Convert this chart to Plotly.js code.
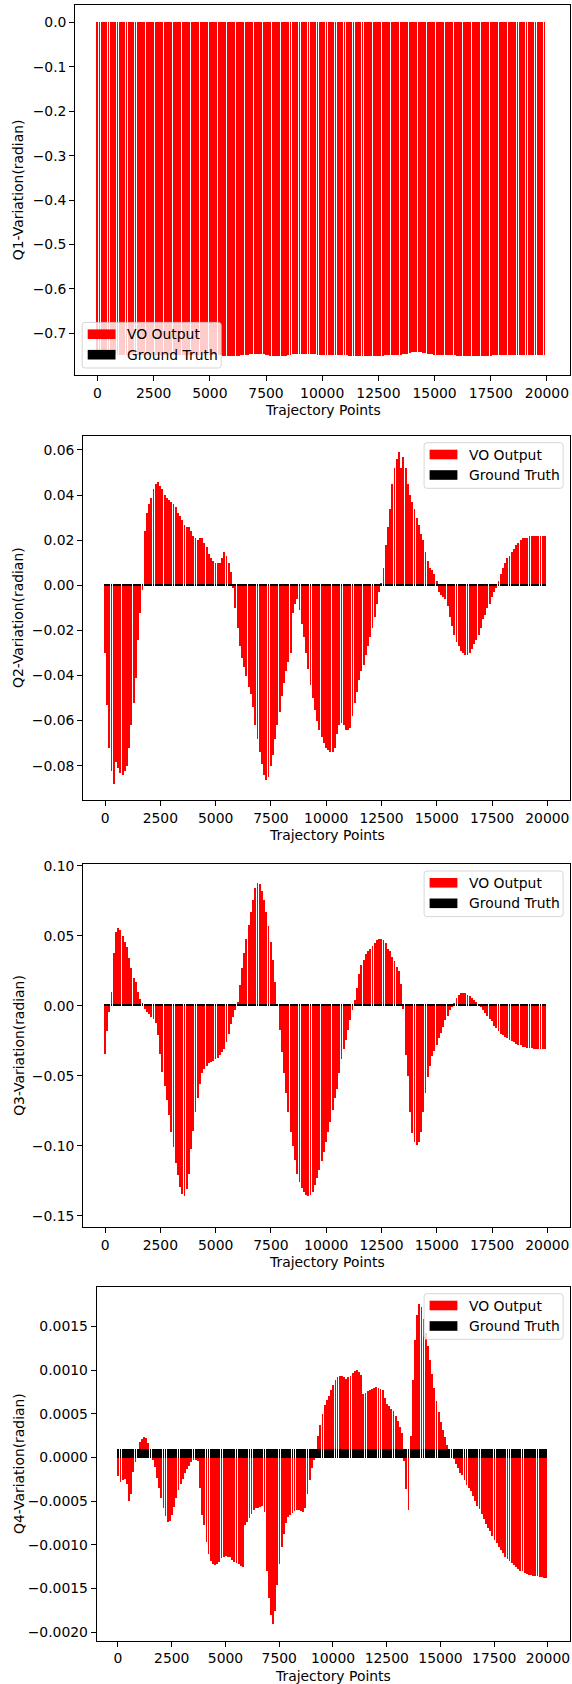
<!DOCTYPE html>
<html>
<head>
<meta charset="utf-8">
<script src="https://cdn.plot.ly/plotly-3.0.1.min.js"></script>
<style>
  html, body { margin: 0; padding: 0; background: #ffffff; }
  #chart { width: 572px; height: 1684px; }
</style>
</head>
<body>
<div id="chart"></div>
<script>
// Sampled trajectory points (x positions of the bars)
const trajectoryPoints = [
  0, 100, 200, 300, 400, 500, 600, 700, 800, 900,
  1000, 1100, 1200, 1300, 1400, 1500, 1600, 1700, 1800, 1900,
  2000, 2100, 2200, 2300, 2400, 2500, 2600, 2700, 2800, 2900,
  3000, 3100, 3200, 3300, 3400, 3500, 3600, 3700, 3800, 3900,
  4000, 4100, 4200, 4300, 4400, 4500, 4600, 4700, 4800, 4900,
  5000, 5100, 5200, 5300, 5400, 5500, 5600, 5700, 5800, 5900,
  6000, 6100, 6200, 6300, 6400, 6500, 6600, 6700, 6800, 6900,
  7000, 7100, 7200, 7300, 7400, 7500, 7600, 7700, 7800, 7900,
  8000, 8100, 8200, 8300, 8400, 8500, 8600, 8700, 8800, 8900,
  9000, 9100, 9200, 9300, 9400, 9500, 9600, 9700, 9800, 9900,
  10000, 10100, 10200, 10300, 10400, 10500, 10600, 10700, 10800, 10900,
  11000, 11100, 11200, 11300, 11400, 11500, 11600, 11700, 11800, 11900,
  12000, 12100, 12200, 12300, 12400, 12500, 12600, 12700, 12800, 12900,
  13000, 13100, 13200, 13300, 13400, 13500, 13600, 13700, 13800, 13900,
  14000, 14100, 14200, 14300, 14400, 14500, 14600, 14700, 14800, 14900,
  15000, 15100, 15200, 15300, 15400, 15500, 15600, 15700, 15800, 15900,
  16000, 16100, 16200, 16300, 16400, 16500, 16600, 16700, 16800, 16900,
  17000, 17100, 17200, 17300, 17400, 17500, 17600, 17700, 17800, 17900,
  18000, 18100, 18200, 18300, 18400, 18500, 18600, 18700, 18800, 18900,
  19000, 19100, 19200, 19300, 19400, 19500, 19600, 19700, 19800, 19900
];

// Quaternion component variations from the VO pipeline (radian)
const q1VoOutput = [
  -0.749, -0.749, -0.749, -0.749, -0.749, -0.749, -0.749, -0.749, -0.749, -0.749,
  -0.749, -0.749, -0.749, -0.749, -0.749, -0.749, -0.749, -0.749, -0.749, -0.749,
  -0.749, -0.749, -0.749, -0.749, -0.749, -0.749, -0.749, -0.749, -0.749, -0.749,
  -0.749, -0.749, -0.749, -0.749, -0.749, -0.749, -0.749, -0.749, -0.749, -0.749,
  -0.749, -0.749, -0.749, -0.749, -0.749, -0.749, -0.749, -0.749, -0.749, -0.749,
  -0.749, -0.749, -0.749, -0.749, -0.749, -0.749, -0.750, -0.750, -0.751, -0.751,
  -0.751, -0.751, -0.750, -0.750, -0.749, -0.749, -0.748, -0.748, -0.747, -0.746,
  -0.746, -0.746, -0.746, -0.746, -0.747, -0.748, -0.749, -0.750, -0.751, -0.752,
  -0.752, -0.752, -0.752, -0.751, -0.750, -0.749, -0.748, -0.747, -0.746, -0.746,
  -0.746, -0.746, -0.746, -0.746, -0.746, -0.746, -0.747, -0.747, -0.748, -0.748,
  -0.748, -0.748, -0.748, -0.748, -0.748, -0.748, -0.748, -0.748, -0.748, -0.748,
  -0.748, -0.748, -0.750, -0.750, -0.750, -0.750, -0.750, -0.750, -0.750, -0.750,
  -0.750, -0.750, -0.750, -0.750, -0.750, -0.750, -0.750, -0.750, -0.749, -0.749,
  -0.749, -0.749, -0.749, -0.749, -0.749, -0.749, -0.747, -0.747, -0.746, -0.745,
  -0.743, -0.742, -0.741, -0.741, -0.742, -0.744, -0.745, -0.746, -0.746, -0.747,
  -0.748, -0.748, -0.749, -0.749, -0.749, -0.749, -0.749, -0.749, -0.749, -0.749,
  -0.751, -0.751, -0.751, -0.751, -0.751, -0.751, -0.751, -0.751, -0.751, -0.751,
  -0.751, -0.751, -0.751, -0.751, -0.751, -0.751, -0.749, -0.749, -0.749, -0.749,
  -0.749, -0.749, -0.749, -0.749, -0.749, -0.749, -0.749, -0.749, -0.749, -0.749,
  -0.749, -0.749, -0.749, -0.749, -0.749, -0.749, -0.749, -0.749, -0.749, -0.749
];

const q2VoOutput = [
  -0.030, -0.053, -0.072, -0.082, -0.088, -0.078, -0.081, -0.083, -0.084, -0.082,
  -0.080, -0.072, -0.062, -0.052, -0.041, -0.024, -0.012, -0.002, 0.024, 0.032,
  0.036, 0.039, 0.043, 0.045, 0.046, 0.044, 0.043, 0.040, 0.039, 0.038,
  0.037, 0.036, 0.035, 0.032, 0.031, 0.029, 0.027, 0.026, 0.026, 0.024,
  0.022, 0.021, 0.020, 0.021, 0.021, 0.019, 0.017, 0.014, 0.012, 0.011,
  0.010, 0.010, 0.010, 0.012, 0.015, 0.013, 0.010, 0.006, -0.001, -0.010,
  -0.019, -0.027, -0.032, -0.036, -0.040, -0.045, -0.048, -0.054, -0.062, -0.068,
  -0.074, -0.079, -0.084, -0.086, -0.085, -0.080, -0.075, -0.068, -0.062, -0.056,
  -0.049, -0.043, -0.038, -0.034, -0.030, -0.012, -0.008, -0.006, -0.011, -0.017,
  -0.023, -0.030, -0.037, -0.044, -0.050, -0.055, -0.060, -0.064, -0.067, -0.070,
  -0.072, -0.073, -0.074, -0.074, -0.072, -0.066, -0.062, -0.061, -0.062, -0.064,
  -0.064, -0.063, -0.058, -0.052, -0.047, -0.042, -0.038, -0.035, -0.031, -0.027,
  -0.023, -0.019, -0.014, -0.008, -0.003, 0.001, 0.008, 0.018, 0.026, 0.034,
  0.045, 0.052, 0.056, 0.059, 0.052, 0.057, 0.052, 0.045, 0.040, 0.037,
  0.034, 0.030, 0.027, 0.023, 0.020, 0.015, 0.011, 0.008, 0.007, 0.005,
  0.002, -0.003, -0.004, -0.005, -0.006, -0.009, -0.014, -0.018, -0.022, -0.025,
  -0.027, -0.029, -0.030, -0.031, -0.031, -0.030, -0.028, -0.026, -0.024, -0.022,
  -0.019, -0.015, -0.013, -0.010, -0.008, -0.005, -0.003, -0.001, 0.002, 0.005,
  0.008, 0.010, 0.012, 0.013, 0.015, 0.016, 0.018, 0.019, 0.020, 0.021,
  0.021, 0.021, 0.022, 0.022, 0.022, 0.022, 0.022, 0.022, 0.022, 0.022
];

const q3VoOutput = [
  -0.034, -0.018, -0.004, 0.010, 0.038, 0.053, 0.056, 0.054, 0.050, 0.046,
  0.042, 0.034, 0.027, 0.020, 0.017, 0.010, 0.005, 0.002, -0.002, -0.004,
  -0.006, -0.008, -0.009, -0.012, -0.021, -0.034, -0.047, -0.057, -0.067, -0.078,
  -0.090, -0.101, -0.112, -0.121, -0.129, -0.134, -0.136, -0.131, -0.120, -0.102,
  -0.089, -0.076, -0.066, -0.056, -0.048, -0.045, -0.043, -0.041, -0.040, -0.039,
  -0.038, -0.037, -0.035, -0.033, -0.031, -0.026, -0.020, -0.013, -0.008, -0.003,
  0.003, 0.015, 0.027, 0.038, 0.048, 0.058, 0.067, 0.076, 0.084, 0.088,
  0.087, 0.082, 0.076, 0.067, 0.057, 0.046, 0.033, 0.017, 0.001, -0.017,
  -0.033, -0.048, -0.062, -0.076, -0.090, -0.100, -0.110, -0.120, -0.126, -0.130,
  -0.133, -0.135, -0.136, -0.135, -0.133, -0.128, -0.123, -0.117, -0.111, -0.104,
  -0.097, -0.090, -0.083, -0.074, -0.066, -0.059, -0.048, -0.038, -0.031, -0.024,
  -0.017, -0.010, -0.003, 0.004, 0.013, 0.023, 0.029, 0.033, 0.037, 0.039,
  0.041, 0.043, 0.045, 0.047, 0.048, 0.048, 0.047, 0.045, 0.041, 0.039,
  0.035, 0.032, 0.028, 0.025, 0.016, -0.002, -0.035, -0.050, -0.076, -0.091,
  -0.097, -0.099, -0.097, -0.090, -0.076, -0.062, -0.051, -0.043, -0.036, -0.032,
  -0.028, -0.023, -0.019, -0.015, -0.010, -0.007, -0.003, -0.001, 0.002, 0.006,
  0.008, 0.009, 0.009, 0.009, 0.008, 0.007, 0.006, 0.004, 0.003, 0.001,
  -0.001, -0.003, -0.005, -0.007, -0.009, -0.011, -0.014, -0.016, -0.018, -0.020,
  -0.021, -0.022, -0.023, -0.024, -0.025, -0.026, -0.027, -0.028, -0.028, -0.029,
  -0.029, -0.030, -0.030, -0.030, -0.031, -0.031, -0.031, -0.031, -0.031, -0.031
];

const q4VoOutput = [
  -0.00021, -0.00028, -0.00026, -0.00024, -0.00030, -0.00049, -0.00042, -0.00016, -0.00005, 0.00010,
  0.00018, 0.00022, 0.00024, 0.00023, 0.00017, 0.00006, -0.00002, -0.00011, -0.00023, -0.00035,
  -0.00046, -0.00057, -0.00067, -0.00074, -0.00072, -0.00065, -0.00056, -0.00046, -0.00037, -0.00030,
  -0.00024, -0.00018, -0.00013, -0.00009, -0.00005, -0.00003, -0.00003, -0.00004, -0.00035, -0.00065,
  -0.00077, -0.00096, -0.00110, -0.00118, -0.00122, -0.00123, -0.00122, -0.00119, -0.00115, -0.00113,
  -0.00112, -0.00113, -0.00114, -0.00117, -0.00119, -0.00120, -0.00122, -0.00124, -0.00125, -0.00077,
  -0.00073, -0.00069, -0.00064, -0.00060, -0.00058, -0.00057, -0.00056, -0.00055, -0.00062, -0.00130,
  -0.00160, -0.00180, -0.00190, -0.00175, -0.00146, -0.00122, -0.00102, -0.00087, -0.00075, -0.00068,
  -0.00065, -0.00063, -0.00061, -0.00060, -0.00060, -0.00061, -0.00062, -0.00057, -0.00042, -0.00026,
  -0.00012, -0.00002, 0.00010, 0.00025, 0.00038, 0.00050, 0.00060, 0.00066, 0.00071, 0.00077,
  0.00083, 0.00089, 0.00092, 0.00094, 0.00094, 0.00092, 0.00090, 0.00092, 0.00094, 0.00097,
  0.00099, 0.00100, 0.00098, 0.00095, 0.00073, 0.00074, 0.00076, 0.00078, 0.00079, 0.00080,
  0.00081, 0.00080, 0.00079, 0.00077, 0.00068, 0.00062, 0.00059, 0.00056, 0.00053, 0.00048,
  0.00042, 0.00035, 0.00028, -0.00004, -0.00036, -0.00060, 0.00025, 0.00089, 0.00135, 0.00163,
  0.00176, 0.00172, 0.00159, 0.00143, 0.00128, 0.00112, 0.00096, 0.00080, 0.00065, 0.00052,
  0.00041, 0.00032, 0.00024, 0.00015, 0.00009, 0.00004, -0.00001, -0.00007, -0.00012, -0.00017,
  -0.00020, -0.00026, -0.00031, -0.00035, -0.00038, -0.00044, -0.00049, -0.00055, -0.00059, -0.00064,
  -0.00070, -0.00076, -0.00080, -0.00084, -0.00089, -0.00094, -0.00098, -0.00102, -0.00106, -0.00109,
  -0.00113, -0.00116, -0.00118, -0.00120, -0.00123, -0.00125, -0.00127, -0.00129, -0.00130, -0.00132,
  -0.00133, -0.00134, -0.00134, -0.00135, -0.00135, -0.00135, -0.00136, -0.00136, -0.00137, -0.00137
];

// Ground-truth variations (radian)
const q1GroundTruth = [
  0, 0, 0, 0, 0, 0, 0, 0, 0, 0,  0, 0, 0, 0, 0, 0, 0, 0, 0, 0,
  0, 0, 0, 0, 0, 0, 0, 0, 0, 0,  0, 0, 0, 0, 0, 0, 0, 0, 0, 0,
  0, 0, 0, 0, 0, 0, 0, 0, 0, 0,  0, 0, 0, 0, 0, 0, 0, 0, 0, 0,
  0, 0, 0, 0, 0, 0, 0, 0, 0, 0,  0, 0, 0, 0, 0, 0, 0, 0, 0, 0,
  0, 0, 0, 0, 0, 0, 0, 0, 0, 0,  0, 0, 0, 0, 0, 0, 0, 0, 0, 0,
  0, 0, 0, 0, 0, 0, 0, 0, 0, 0,  0, 0, 0, 0, 0, 0, 0, 0, 0, 0,
  0, 0, 0, 0, 0, 0, 0, 0, 0, 0,  0, 0, 0, 0, 0, 0, 0, 0, 0, 0,
  0, 0, 0, 0, 0, 0, 0, 0, 0, 0,  0, 0, 0, 0, 0, 0, 0, 0, 0, 0,
  0, 0, 0, 0, 0, 0, 0, 0, 0, 0,  0, 0, 0, 0, 0, 0, 0, 0, 0, 0,
  0, 0, 0, 0, 0, 0, 0, 0, 0, 0,  0, 0, 0, 0, 0, 0, 0, 0, 0, 0
];
const q2GroundTruth = [
  0.0009, 0.0009, 0.0009, 0.0009, 0.0009, 0.0009, 0.0009, 0.0009, 0.0009, 0.0009,
  0.0009, 0.0009, 0.0009, 0.0009, 0.0009, 0.0009, 0.0009, 0.0009, 0.0009, 0.0009,
  0.0009, 0.0009, 0.0009, 0.0009, 0.0009, 0.0009, 0.0009, 0.0009, 0.0009, 0.0009,
  0.0009, 0.0009, 0.0009, 0.0009, 0.0009, 0.0009, 0.0009, 0.0009, 0.0009, 0.0009,
  0.0009, 0.0009, 0.0009, 0.0009, 0.0009, 0.0009, 0.0009, 0.0009, 0.0009, 0.0009,
  0.0009, 0.0009, 0.0009, 0.0009, 0.0009, 0.0009, 0.0009, 0.0009, 0.0009, 0.0009,
  0.0009, 0.0009, 0.0009, 0.0009, 0.0009, 0.0009, 0.0009, 0.0009, 0.0009, 0.0009,
  0.0009, 0.0009, 0.0009, 0.0009, 0.0009, 0.0009, 0.0009, 0.0009, 0.0009, 0.0009,
  0.0009, 0.0009, 0.0009, 0.0009, 0.0009, 0.0009, 0.0009, 0.0009, 0.0009, 0.0009,
  0.0009, 0.0009, 0.0009, 0.0009, 0.0009, 0.0009, 0.0009, 0.0009, 0.0009, 0.0009,
  0.0009, 0.0009, 0.0009, 0.0009, 0.0009, 0.0009, 0.0009, 0.0009, 0.0009, 0.0009,
  0.0009, 0.0009, 0.0009, 0.0009, 0.0009, 0.0009, 0.0009, 0.0009, 0.0009, 0.0009,
  0.0009, 0.0009, 0.0009, 0.0009, 0.0009, 0.0009, 0.0009, 0.0009, 0.0009, 0.0009,
  0.0009, 0.0009, 0.0009, 0.0009, 0.0009, 0.0009, 0.0009, 0.0009, 0.0009, 0.0009,
  0.0009, 0.0009, 0.0009, 0.0009, 0.0009, 0.0009, 0.0009, 0.0009, 0.0009, 0.0009,
  0.0009, 0.0009, 0.0009, 0.0009, 0.0009, 0.0009, 0.0009, 0.0009, 0.0009, 0.0009,
  0.0009, 0.0009, 0.0009, 0.0009, 0.0009, 0.0009, 0.0009, 0.0009, 0.0009, 0.0009,
  0.0009, 0.0009, 0.0009, 0.0009, 0.0009, 0.0009, 0.0009, 0.0009, 0.0009, 0.0009,
  0.0009, 0.0009, 0.0009, 0.0009, 0.0009, 0.0009, 0.0009, 0.0009, 0.0009, 0.0009,
  0.0009, 0.0009, 0.0009, 0.0009, 0.0009, 0.0009, 0.0009, 0.0009, 0.0009, 0.0009
];
const q3GroundTruth = [
  0.0014, 0.0014, 0.0014, 0.0014, 0.0014, 0.0014, 0.0014, 0.0014, 0.0014, 0.0014,
  0.0014, 0.0014, 0.0014, 0.0014, 0.0014, 0.0014, 0.0014, 0.0014, 0.0014, 0.0014,
  0.0014, 0.0014, 0.0014, 0.0014, 0.0014, 0.0014, 0.0014, 0.0014, 0.0014, 0.0014,
  0.0014, 0.0014, 0.0014, 0.0014, 0.0014, 0.0014, 0.0014, 0.0014, 0.0014, 0.0014,
  0.0014, 0.0014, 0.0014, 0.0014, 0.0014, 0.0014, 0.0014, 0.0014, 0.0014, 0.0014,
  0.0014, 0.0014, 0.0014, 0.0014, 0.0014, 0.0014, 0.0014, 0.0014, 0.0014, 0.0014,
  0.0014, 0.0014, 0.0014, 0.0014, 0.0014, 0.0014, 0.0014, 0.0014, 0.0014, 0.0014,
  0.0014, 0.0014, 0.0014, 0.0014, 0.0014, 0.0014, 0.0014, 0.0014, 0.0014, 0.0014,
  0.0014, 0.0014, 0.0014, 0.0014, 0.0014, 0.0014, 0.0014, 0.0014, 0.0014, 0.0014,
  0.0014, 0.0014, 0.0014, 0.0014, 0.0014, 0.0014, 0.0014, 0.0014, 0.0014, 0.0014,
  0.0014, 0.0014, 0.0014, 0.0014, 0.0014, 0.0014, 0.0014, 0.0014, 0.0014, 0.0014,
  0.0014, 0.0014, 0.0014, 0.0014, 0.0014, 0.0014, 0.0014, 0.0014, 0.0014, 0.0014,
  0.0014, 0.0014, 0.0014, 0.0014, 0.0014, 0.0014, 0.0014, 0.0014, 0.0014, 0.0014,
  0.0014, 0.0014, 0.0014, 0.0014, 0.0014, 0.0014, 0.0014, 0.0014, 0.0014, 0.0014,
  0.0014, 0.0014, 0.0014, 0.0014, 0.0014, 0.0014, 0.0014, 0.0014, 0.0014, 0.0014,
  0.0014, 0.0014, 0.0014, 0.0014, 0.0014, 0.0014, 0.0014, 0.0014, 0.0014, 0.0014,
  0.0014, 0.0014, 0.0014, 0.0014, 0.0014, 0.0014, 0.0014, 0.0014, 0.0014, 0.0014,
  0.0014, 0.0014, 0.0014, 0.0014, 0.0014, 0.0014, 0.0014, 0.0014, 0.0014, 0.0014,
  0.0014, 0.0014, 0.0014, 0.0014, 0.0014, 0.0014, 0.0014, 0.0014, 0.0014, 0.0014,
  0.0014, 0.0014, 0.0014, 0.0014, 0.0014, 0.0014, 0.0014, 0.0014, 0.0014, 0.0014
];
const q4GroundTruth = [
  0.0001, 0.0001, 0.0001, 0.0001, 0.0001, 0.0001, 0.0001, 0.0001, 0.0001, 0.0001,
  0.0001, 0.0001, 0.0001, 0.0001, 0.0001, 0.0001, 0.0001, 0.0001, 0.0001, 0.0001,
  0.0001, 0.0001, 0.0001, 0.0001, 0.0001, 0.0001, 0.0001, 0.0001, 0.0001, 0.0001,
  0.0001, 0.0001, 0.0001, 0.0001, 0.0001, 0.0001, 0.0001, 0.0001, 0.0001, 0.0001,
  0.0001, 0.0001, 0.0001, 0.0001, 0.0001, 0.0001, 0.0001, 0.0001, 0.0001, 0.0001,
  0.0001, 0.0001, 0.0001, 0.0001, 0.0001, 0.0001, 0.0001, 0.0001, 0.0001, 0.0001,
  0.0001, 0.0001, 0.0001, 0.0001, 0.0001, 0.0001, 0.0001, 0.0001, 0.0001, 0.0001,
  0.0001, 0.0001, 0.0001, 0.0001, 0.0001, 0.0001, 0.0001, 0.0001, 0.0001, 0.0001,
  0.0001, 0.0001, 0.0001, 0.0001, 0.0001, 0.0001, 0.0001, 0.0001, 0.0001, 0.0001,
  0.0001, 0.0001, 0.0001, 0.0001, 0.0001, 0.0001, 0.0001, 0.0001, 0.0001, 0.0001,
  0.0001, 0.0001, 0.0001, 0.0001, 0.0001, 0.0001, 0.0001, 0.0001, 0.0001, 0.0001,
  0.0001, 0.0001, 0.0001, 0.0001, 0.0001, 0.0001, 0.0001, 0.0001, 0.0001, 0.0001,
  0.0001, 0.0001, 0.0001, 0.0001, 0.0001, 0.0001, 0.0001, 0.0001, 0.0001, 0.0001,
  0.0001, 0.0001, 0.0001, 0.0001, 0.0001, 0.0001, 0.0001, 0.0001, 0.0001, 0.0001,
  0.0001, 0.0001, 0.0001, 0.0001, 0.0001, 0.0001, 0.0001, 0.0001, 0.0001, 0.0001,
  0.0001, 0.0001, 0.0001, 0.0001, 0.0001, 0.0001, 0.0001, 0.0001, 0.0001, 0.0001,
  0.0001, 0.0001, 0.0001, 0.0001, 0.0001, 0.0001, 0.0001, 0.0001, 0.0001, 0.0001,
  0.0001, 0.0001, 0.0001, 0.0001, 0.0001, 0.0001, 0.0001, 0.0001, 0.0001, 0.0001,
  0.0001, 0.0001, 0.0001, 0.0001, 0.0001, 0.0001, 0.0001, 0.0001, 0.0001, 0.0001,
  0.0001, 0.0001, 0.0001, 0.0001, 0.0001, 0.0001, 0.0001, 0.0001, 0.0001, 0.0001
];

const yTitles = ['Q1-Variation(radian)', 'Q2-Variation(radian)', 'Q3-Variation(radian)', 'Q4-Variation(radian)'];
const xTitle = 'Trajectory Points';
const seriesNames = ['VO Output', 'Ground Truth'];

// ---- page geometry (pixels) ----
const W = 572, H = 1684;
const FONT = 'DejaVu Sans, Liberation Sans, sans-serif';
const FS = 13.9;
const PX = v => v / W;
const PY = v => 1 - v / H;

const panels = [
  { vo: q1VoOutput, gt: q1GroundTruth, left: 75.2, top: 5, bottom: 375,
    yrange: [-0.7937, 0.0390], dtick: 0.1, fmt: '.1f', legend: 'lower left' },
  { vo: q2VoOutput, gt: q2GroundTruth, left: 83.2, top: 435.7, bottom: 800,
    yrange: [-0.0952, 0.0663], dtick: 0.02, fmt: '.2f', legend: 'upper right' },
  { vo: q3VoOutput, gt: q3GroundTruth, left: 83.2, top: 864, bottom: 1227.3,
    yrange: [-0.1581, 0.1014], dtick: 0.05, fmt: '.2f', legend: 'upper right' },
  { vo: q4VoOutput, gt: q4GroundTruth, left: 96.7, top: 1286.7, bottom: 1640.7,
    yrange: [-0.002096, 0.001953], dtick: 0.0005, fmt: '.4f', legend: 'upper right' }
];
const RIGHT = 570.1;
const XRANGE = [-990, 21030];
// bars are a little narrower than their spacing, so thin white seams appear between some of them
const BAR_WIDTH = 85;
const VO_COLOR = 'rgba(255,0,0,0.999)';
const GT_COLOR = 'rgba(0,0,0,0.999)';

const traces = [];
const layout = {
  width: W, height: H,
  margin: { l: 0, r: 0, t: 0, b: 0 },
  paper_bgcolor: '#ffffff', plot_bgcolor: '#ffffff',
  barmode: 'overlay', bargap: 0, bargroupgap: 0,
  showlegend: false,
  font: { family: FONT, size: FS, color: '#000000' },
  shapes: [], annotations: []
};

function roundRect(x0, y0, x1, y1, r) {
  const X = v => PX(v).toFixed(6), Y = v => PY(v).toFixed(6);
  return `M${X(x0 + r)},${Y(y0)} L${X(x1 - r)},${Y(y0)} Q${X(x1)},${Y(y0)} ${X(x1)},${Y(y0 + r)} ` +
         `L${X(x1)},${Y(y1 - r)} Q${X(x1)},${Y(y1)} ${X(x1 - r)},${Y(y1)} ` +
         `L${X(x0 + r)},${Y(y1)} Q${X(x0)},${Y(y1)} ${X(x0)},${Y(y1 - r)} ` +
         `L${X(x0)},${Y(y0 + r)} Q${X(x0)},${Y(y0)} ${X(x0 + r)},${Y(y0)} Z`;
}

function addText(text, xpx, ypx, opts) {
  layout.annotations.push(Object.assign({
    text: text, xref: 'paper', yref: 'paper', x: PX(xpx), y: PY(ypx),
    showarrow: false, xanchor: 'center', yanchor: 'middle',
    font: { family: FONT, size: FS, color: '#000000' }
  }, opts || {}));
}

panels.forEach((p, i) => {
  const n = i === 0 ? '' : String(i + 1);
  const xa = 'x' + n, ya = 'y' + n;

  traces.push({
    type: 'bar', name: seriesNames[0], x: trajectoryPoints, y: p.vo, width: BAR_WIDTH,
    marker: { color: VO_COLOR, line: { width: 0 } }, xaxis: xa, yaxis: ya, hoverinfo: 'skip'
  });
  traces.push({
    type: 'bar', name: seriesNames[1], x: trajectoryPoints, y: p.gt, width: BAR_WIDTH,
    marker: { color: GT_COLOR, line: { width: 0 } }, xaxis: xa, yaxis: ya, hoverinfo: 'skip'
  });

  const common = {
    showline: true, mirror: true, linecolor: '#000000', linewidth: 1,
    ticks: 'outside', ticklen: 5, tickwidth: 1, tickcolor: '#000000',
    showgrid: false, zeroline: false, fixedrange: true,
    tickfont: { family: FONT, size: FS, color: '#000000' }
  };
  layout['xaxis' + n] = Object.assign({}, common, {
    domain: [PX(p.left), PX(RIGHT)], anchor: ya, range: XRANGE,
    tickmode: 'linear', tick0: 0, dtick: 2500, tickformat: 'd'
  });
  layout['yaxis' + n] = Object.assign({}, common, {
    domain: [PY(p.bottom), PY(p.top)], anchor: xa, range: p.yrange,
    tickmode: 'linear', tick0: 0, dtick: p.dtick, tickformat: p.fmt
  });

  // axis titles
  addText(xTitle, (p.left + RIGHT) / 2, p.bottom + 35);
  addText(yTitles[i], 18.2, (p.top + p.bottom) / 2, { textangle: -90 });

  // legend box
  const lw = 139, lh = 45.6, pad = 7;
  const lx0 = p.legend === 'lower left' ? p.left + pad : RIGHT - pad - lw;
  const ly0 = p.legend === 'lower left' ? p.bottom - pad - lh : p.top + pad;
  layout.shapes.push({
    type: 'path', xref: 'paper', yref: 'paper', layer: 'above',
    path: roundRect(lx0, ly0, lx0 + lw, ly0 + lh, 2.8),
    fillcolor: 'rgba(255,255,255,0.8)', line: { color: 'rgba(204,204,204,0.8)', width: 1 }
  });
  const rows = [ly0 + 11.8, ly0 + 32.3];
  const swatchColors = ['#ff0000', '#000000'];
  rows.forEach((ry, k) => {
    layout.shapes.push({
      type: 'rect', xref: 'paper', yref: 'paper', layer: 'above',
      x0: PX(lx0 + 5.5), x1: PX(lx0 + 33.3), y0: PY(ry - 4.8), y1: PY(ry + 4.8),
      fillcolor: swatchColors[k], line: { width: 0 }
    });
    addText(seriesNames[k], lx0 + 42.5, ry, { xanchor: 'left' });
  });
});

Plotly.newPlot('chart', traces, layout, { displayModeBar: false, responsive: false });
</script>
</body>
</html>
